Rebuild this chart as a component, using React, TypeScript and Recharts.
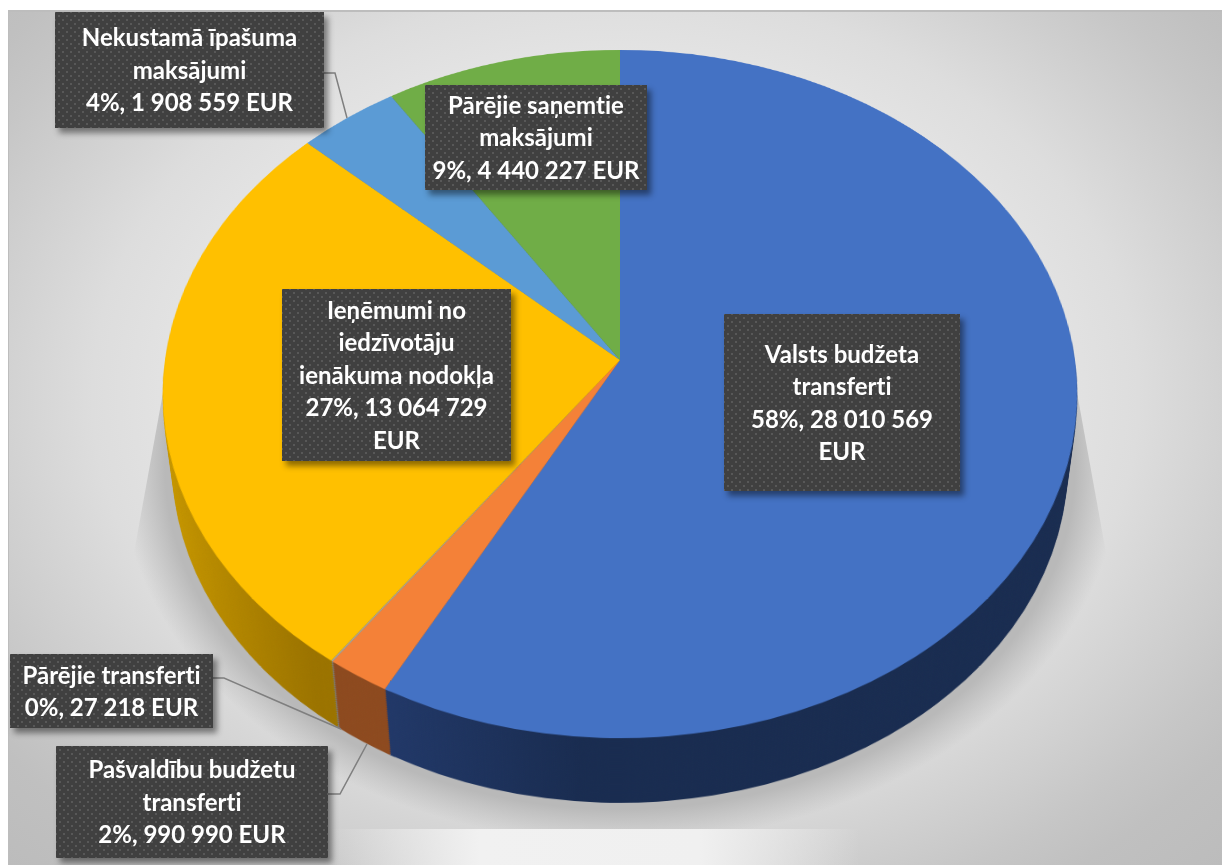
import { Cell, Pie, PieChart } from "recharts";

const CATEGORIES = [
  "Valsts budžeta\ntransferti",
  "Pašvaldību budžetu\ntransferti",
  "Pārējie transferti",
  "Ieņēmumi no\niedzīvotāju\nienākuma nodokļa",
  "Nekustamā īpašuma\nmaksājumi",
  "Pārējie saņemtie\nmaksājumi",
];
const VALUES = [28010569, 990990, 27218, 13064729, 1908559, 4440227];
const PERCENTS = [58, 2, 0, 27, 4, 9];
const VALUE_LABELS = [
  "28 010 569\nEUR",
  "990 990 EUR",
  "27 218 EUR",
  "13 064 729\nEUR",
  "1 908 559 EUR",
  "4 440 227 EUR",
];

const TOP_COLORS = ["#4472c4", "#f48138", "#a5a5a5", "#ffc000", "#5b9bd5", "#70ad47"];
const WALL_COLORS = [
  "url(#wallBlue)",
  "#8d4a1f",
  "#7a7a7a",
  "url(#wallYellow)",
  "#3a6c99",
  "#4a7530",
];

// page boxes of the data labels, same order as CATEGORIES
const BOXES = [
  { x: 724, y: 314, w: 236, h: 177 },
  { x: 56, y: 746, w: 272, h: 112 },
  { x: 10, y: 654, w: 203, h: 74 },
  { x: 282, y: 289, w: 229, h: 172 },
  { x: 55, y: 12, w: 269, h: 116 },
  { x: 425, y: 85, w: 222, h: 105 },
];
const LEADERS = [
  "324,73 335,73 347,118",
  "213,678 224,678 341,729",
  "328,794 340,794 367,744",
];

const data = VALUES.map((value, i) => ({ name: CATEGORIES[i], value }));

const SIZE = 930;
const LEFT = 620 - SIZE / 2;
const TOP = 360 - SIZE / 2;
const TILT = "perspective(3050px) rotateX(41.5deg)";
const WALL_DROP = 73;
const WALL_SCALE = 0.022;
const WALL_STEPS = 36;

function Disc({ fills, transform }: { fills: string[]; transform: string }) {
  return (
    <div style={{ position: "absolute", left: LEFT, top: TOP, width: SIZE, height: SIZE, transform, transformOrigin: "50% 50%" }}>
      <PieChart width={SIZE} height={SIZE} margin={{ top: 0, right: 0, bottom: 0, left: 0 }}>
        <Pie
          data={data}
          dataKey="value"
          cx={SIZE / 2}
          cy={SIZE / 2}
          outerRadius={455}
          startAngle={90}
          endAngle={-270}
          stroke="none"
          isAnimationActive={false}
        >
          {data.map((d, i) => (
            <Cell key={d.name} fill={fills[i]} />
          ))}
        </Pie>
      </PieChart>
    </div>
  );
}

export default function App() {
  const layers = [];
  for (let i = WALL_STEPS; i >= 1; i--) {
    const t = i / WALL_STEPS;
    layers.push(
      <Disc
        key={i}
        fills={WALL_COLORS}
        transform={`translateY(${t * WALL_DROP}px) scale(${1 - t * WALL_SCALE}) ${TILT}`}
      />,
    );
  }

  return (
    <div
      style={{
        position: "absolute",
        left: 0,
        top: 0,
        width: 1222,
        height: 865,
        overflow: "hidden",
        background: "#fff",
        fontFamily: "Lato, sans-serif",
      }}
    >
      <div
        style={{
          position: "absolute",
          left: 8,
          top: 10,
          right: 0,
          bottom: 0,
          borderTop: "2px solid #bdbdbd",
          borderLeft: "1px solid #bdbdbd",
          background:
            "radial-gradient(ellipse farthest-corner at 50% 45%, #e6e6e6 0%, #e4e4e4 50%, #dddddd 61%, #d2d2d2 71%, #c6c6c6 82%, #c0c0c0 89%, #bcbcbc 100%)",
        }}
      />
      {/* lighter floor strip under the shadow */}
      <div
        style={{
          position: "absolute",
          left: 0,
          right: 0,
          top: 829,
          bottom: 0,
          background: "linear-gradient(to right, rgba(241,241,241,0) 330px, #f1f1f1 480px, #f0f0f0 700px, rgba(240,240,240,0) 860px)",
        }}
      />
      {/* floor shadow under the pie */}
      <div
        style={{
          position: "absolute",
          inset: 0,
          clipPath: "polygon(168px 365px, 1072px 365px, 1156px 829px, 84px 829px)",
          background: "radial-gradient(ellipse 500px 377px at 620px 466px, #b9b9b9 0%, #b9b9b9 91%, rgba(185,185,185,0) 100%)",
        }}
      />
      <svg width={0} height={0} style={{ position: "absolute" }}>
        <defs>
          <linearGradient id="wallYellow" gradientUnits="userSpaceOnUse" x1={20} y1={0} x2={180} y2={0}>
            <stop offset="0%" stopColor="#c69600" />
            <stop offset="100%" stopColor="#9b7300" />
          </linearGradient>
          <linearGradient id="wallBlue" gradientUnits="userSpaceOnUse" x1={235} y1={0} x2={430} y2={0}>
            <stop offset="0%" stopColor="#22396a" />
            <stop offset="100%" stopColor="#192c50" />
          </linearGradient>
        </defs>
      </svg>
      {layers}
      <Disc fills={TOP_COLORS} transform={TILT} />
      <svg width={1222} height={865} style={{ position: "absolute", left: 0, top: 0 }}>
        {LEADERS.map((points) => (
          <polyline key={points} points={points} fill="none" stroke="#7f7f7f" strokeWidth={1.5} />
        ))}
      </svg>
      {BOXES.map((b, i) => (
        <div
          key={CATEGORIES[i]}
          style={{
            position: "absolute",
            left: b.x,
            top: b.y,
            width: b.w,
            height: b.h,
            display: "flex",
            alignItems: "center",
            justifyContent: "center",
            textAlign: "center",
            whiteSpace: "pre-line",
            color: "#fff",
            fontWeight: 700,
            fontSize: 24,
            fontVariantLigatures: "none",
            lineHeight: "32.4px",
            backgroundColor: "#404040",
            backgroundImage:
              "radial-gradient(circle at center, #585858 1.1px, transparent 1.5px), radial-gradient(circle at center, #585858 1.1px, transparent 1.5px)",
            backgroundSize: "8px 8px",
            backgroundPosition: "0 0, 4px 4px",
            boxShadow: "4px 5px 6px rgba(0,0,0,0.45)",
          }}
        >
          {`${CATEGORIES[i]}\n${PERCENTS[i]}%, ${VALUE_LABELS[i]}`}
        </div>
      ))}
    </div>
  );
}
